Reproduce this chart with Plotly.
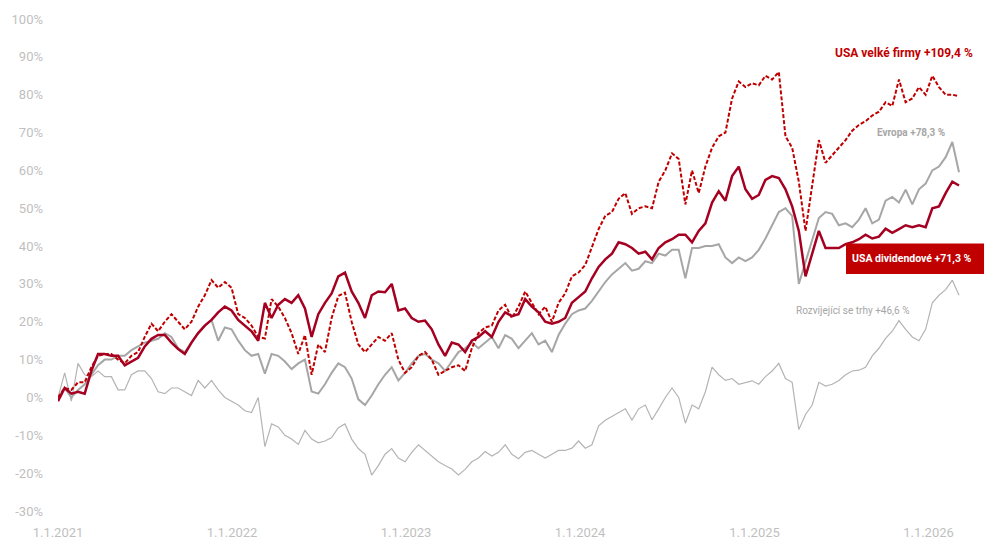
import pandas as pd
import plotly.graph_objects as go

# values, one point every 14 days from 1.1.2021
dates = pd.date_range("2021-01-01", periods=136, freq="14D")

usa_large = [
    0, 2.5, 2, 4, 4, 8, 11, 11.5, 11.5, 10,
    9, 11, 12, 16, 19.5, 17.5, 20, 22, 20, 18,
    20, 24, 27, 31, 29, 30.5, 29, 22, 21, 19,
    16, 15.6, 26, 24, 21, 17, 11.5, 16.5, 6, 14,
    12, 21, 26.8, 27.7, 20, 14, 12, 14, 16, 15,
    17, 10, 6.5, 8, 11, 12, 10, 6, 7, 8,
    8.5, 7, 13, 17, 18.5, 19, 23, 24.5, 21, 24,
    28, 25, 22, 24, 20, 25, 27.5, 32, 33, 35,
    39.5, 44.5, 48, 49, 52.5, 54, 48.5, 50, 50.5, 50,
    57, 60, 64.5, 63, 51, 60, 54, 61, 66, 69,
    70, 79, 83.5, 82, 83, 82.5, 85, 84, 86, 69,
    66, 57, 44, 55.8, 68, 62, 64, 66, 68, 70.5,
    72, 73, 74.5, 75.5, 78, 77, 84, 78, 79, 82,
    80, 85, 82, 80, 80, 79.6,
]

usa_dividend = [
    -1, 2.5, 1, 1.5, 1, 7, 11.5, 11.5, 11, 11,
    8.5, 9.5, 10.5, 13.5, 15.5, 16.5, 16.5, 14.5, 12.8, 11.5,
    14.5, 17, 19, 20.5, 22.5, 24, 23, 20.5, 19, 17.5,
    15, 25, 21, 24.5, 26, 25, 27, 23.5, 16, 22,
    25, 27.5, 32, 33, 28, 25, 21, 27, 28, 27.8,
    30, 23, 23.5, 21, 20, 20.3, 18, 14, 11, 14.5,
    14, 12, 15, 16, 17.5, 16, 20, 22.5, 21.5, 22,
    26, 24, 22.5, 20, 19.5, 20, 21, 25, 26.5, 28,
    31.5, 34.5, 36.5, 38, 41, 40.5, 39.5, 38, 38.5, 36.5,
    39.5, 41, 41.8, 43, 43, 41, 44, 46, 51.5, 54.5,
    52, 58.5, 61, 55, 52.5, 53.5, 57.5, 58.5, 58, 55,
    50.5, 44, 32, 38, 44, 39.5, 39.5, 39.5, 40.5, 41,
    41.8, 43, 42, 42.5, 44.6, 43.5, 44.5, 45.5, 45, 45.5,
    45, 50, 50.5, 54, 57, 56,
]

europe = [
    0, 2.5, 0, 2, 3.5, 6, 8.5, 10, 10, 11,
    11, 12.5, 13.5, 14.5, 15, 15.5, 17, 16, 13, 12,
    14.5, 17, 19, 20.5, 15, 18.5, 18, 15, 12.5, 11,
    11.5, 6.3, 11.5, 11, 9.5, 7.5, 9, 10, 1.6, 1,
    3.5, 6.5, 9, 8, 5, -0.5, -2, 0.5, 3.5, 6,
    8, 4.5, 6.5, 9, 11, 11.5, 10, 9, 7, 9.5,
    12, 13, 14.5, 13, 14.5, 16, 13, 16.5, 15.5, 13,
    15, 17, 14, 15, 12, 16.5, 19.5, 22, 23, 23.5,
    25.5, 28, 30.5, 32.5, 34, 35.5, 33.5, 34, 36, 35.5,
    38, 37.5, 39, 39, 31.5, 39.5, 39.5, 40, 40, 40.5,
    37, 35.5, 37, 36, 37, 39, 42, 45.5, 49, 50,
    48, 30, 36, 42, 47.4, 49, 48.5, 45.5, 46, 45,
    47, 50, 46, 47, 52, 53, 51.5, 54.9, 51, 55,
    56.5, 60, 61, 63.5, 67.5, 59.5,
]

emerging = [
    0, 6.5, -1, 9, 6, 5.5, 7, 5.5, 5.5, 2,
    2, 6, 7, 7, 5, 1.5, 1, 2.5, 2.5, 1.5,
    0.5, 4.5, 2.5, 4.5, 2, 0, -1, -2, -3.5, -4,
    0, -13, -7, -7.8, -10, -11, -12.4, -8.7, -11, -12,
    -11.5, -10.6, -8, -7, -11, -13.5, -15, -20.5, -18, -15,
    -13.5, -16, -17, -14.5, -12.5, -14, -15.5, -17, -18, -18.9,
    -20.5, -19, -17, -16, -14.3, -15.5, -14.5, -12.5, -15, -16.2,
    -14.5, -14, -15, -16, -15, -14, -14, -13.4, -11.5, -13.4,
    -12.5, -7.5, -6, -5, -4, -3, -6, -3, -2, -5.9,
    -3, 0, 2.5, 0, -6.8, -2, -3, 1.5, 8, 6,
    4.5, 5, 3.5, 4, 4.4, 3.5, 5.5, 7, 9, 5,
    4, -8.5, -4.5, -2, 4, 3, 3.5, 4.5, 6, 7,
    7.2, 8, 11, 13, 15.6, 17.5, 20.3, 18, 16, 15,
    18, 25, 27, 28.5, 31, 27,
]

y_ticks = [-30, -20, -10, 0, 10, 20, 30, 40, 50, 60, 70, 80, 90, 100]
x_ticks = ["2021-01-01", "2022-01-01", "2023-01-01", "2024-01-01", "2025-01-01", "2026-01-01"]
x_labels = ["1.1.2021", "1.1.2022", "1.1.2023", "1.1.2024", "1.1.2025", "1.1.2026"]

RED = "#C00000"
DARK_RED = "#A50021"

fig = go.Figure()
fig.add_trace(go.Scatter(x=dates, y=emerging, mode="lines", name="Rozvíjející se trhy",
                         line=dict(color="#B4B4B4", width=1.2)))
fig.add_trace(go.Scatter(x=dates, y=europe, mode="lines", name="Evropa",
                         line=dict(color="#A6A6A6", width=2)))
fig.add_trace(go.Scatter(x=dates, y=usa_large, mode="lines", name="USA velké firmy",
                         line=dict(color=RED, width=2, dash="4px,2px")))
fig.add_trace(go.Scatter(x=dates, y=usa_dividend, mode="lines", name="USA dividendové",
                         line=dict(color=DARK_RED, width=2.5)))

# label box for the dividend series
fig.add_shape(type="rect", xref="paper", yref="paper",
              x0=0.8455, x1=0.9936, y0=0.4817, y1=0.5437,
              fillcolor=RED, line=dict(width=0), layer="above")

fig.add_annotation(text="<b>USA velké firmy +109,4 %</b>", xref="paper", yref="paper",
                   x=0.984, y=0.931, xanchor="right", yanchor="middle", showarrow=False,
                   font=dict(size=12, color=RED))
fig.add_annotation(text="<b>Evropa +78,3 %</b>", xref="paper", yref="paper",
                   x=0.954, y=0.768, xanchor="right", yanchor="middle", showarrow=False,
                   font=dict(size=10, color="#A6A6A6"))
fig.add_annotation(text="<b>USA dividendové +71,3 %</b>", xref="paper", yref="paper",
                   x=0.8498, y=0.5122, xanchor="left", yanchor="middle", showarrow=False,
                   font=dict(size=10.5, color="white"))
fig.add_annotation(text="Rozvíjející se trhy +46,6 %", xref="paper", yref="paper",
                   x=0.9152, y=0.4085, xanchor="right", yanchor="middle", showarrow=False,
                   font=dict(size=10, color="#A6A6A6"))

# the page body adds 8px around the figure, so the figure is 8px smaller
fig.update_layout(
    width=992, height=546,
    margin=dict(l=50, r=10, t=11, b=43),
    paper_bgcolor="white", plot_bgcolor="white",
    showlegend=False,
    font=dict(family="Roboto, sans-serif", size=13, color="#BFBFBF"),
    xaxis=dict(range=["2021-01-01", "2026-05-10"], tickvals=x_ticks, ticktext=x_labels,
               showgrid=False, zeroline=False, showline=False, ticks="",
               ticklabelstandoff=12, automargin=False),
    yaxis=dict(range=[-30, 100], tickvals=y_ticks, ticktext=[f"{v}%" for v in y_ticks],
               showgrid=False, zeroline=False, showline=False, ticks="",
               ticklabelstandoff=14, automargin=False),
)

fig.write_html("out.html")
